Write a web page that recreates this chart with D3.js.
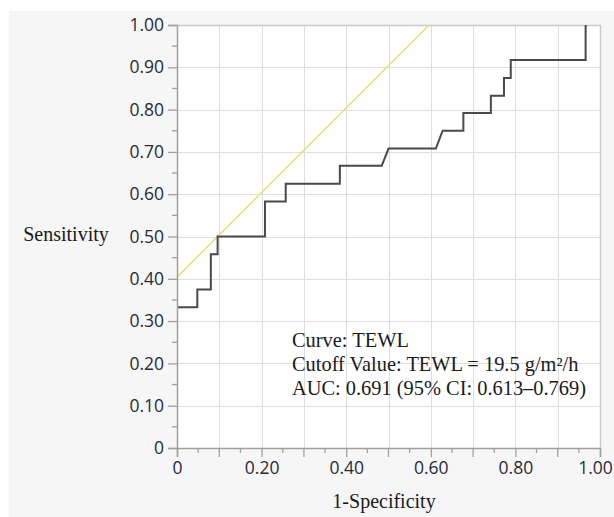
<!DOCTYPE html>
<html>
<head>
<meta charset="utf-8">
<script src="https://cdn.jsdelivr.net/npm/d3@7"></script>
<style>
  html, body { margin: 0; padding: 0; background: #ffffff; }
  svg { display: block; }
</style>
</head>
<body>
<svg id="chart" width="614" height="517"></svg>
<script>
// ROC curve points: 1-Specificity (fpr) and Sensitivity (tpr)
const fpr = [0, 0.048, 0.048, 0.080, 0.080, 0.096, 0.096, 0.208, 0.208, 0.257, 0.257, 0.385, 0.385, 0.484, 0.500, 0.612, 0.628, 0.677, 0.677, 0.742, 0.742, 0.773, 0.773, 0.789, 0.789, 0.966, 0.966];
const tpr = [0.333, 0.333, 0.375, 0.375, 0.458, 0.458, 0.500, 0.500, 0.583, 0.583, 0.625, 0.625, 0.667, 0.667, 0.708, 0.708, 0.750, 0.750, 0.792, 0.792, 0.833, 0.833, 0.875, 0.875, 0.917, 0.917, 1.000];
// Tangent line at cutoff point (slope 1)
const tangentX = [0, 0.596];
const tangentY = [0.404, 1.0];
const yTickValues = [0, 0.1, 0.2, 0.3, 0.4, 0.5, 0.6, 0.7, 0.8, 0.9, 1.0];
const yTickLabels = ["0", "0.10", "0.20", "0.30", "0.40", "0.50", "0.60", "0.70", "0.80", "0.90", "1.00"];
const xTickValues = [0, 0.2, 0.4, 0.6, 0.8, 1.0];
const xTickLabels = ["0", "0.20", "0.40", "0.60", "0.80", "1.00"];
const gridValues = [0.1, 0.2, 0.3, 0.4, 0.5, 0.6, 0.7, 0.8, 0.9];
const minorValues = [0.05, 0.15, 0.25, 0.35, 0.45, 0.55, 0.65, 0.75, 0.85, 0.95];
const majorValues = [0, 0.1, 0.2, 0.3, 0.4, 0.5, 0.6, 0.7, 0.8, 0.9, 1.0];
const annotation = ["Curve: TEWL", "Cutoff Value: TEWL = 19.5 g/m\u00B2/h", "AUC: 0.691 (95% CI: 0.613\u20130.769)"];
const xTitle = "1-Specificity";
const yTitle = "Sensitivity";

const svg = d3.select("#chart");
const L = 177, R = 600, T = 25, B = 448;
const x = d3.scaleLinear().domain([0, 1]).range([L, R]);
const y = d3.scaleLinear().domain([0, 1]).range([B, T]);

// panel background
svg.append("rect").attr("x", 9).attr("y", 11).attr("width", 605).attr("height", 506).attr("fill", "#f6f6f6");
// plot background
svg.append("rect").attr("x", L).attr("y", T).attr("width", R - L).attr("height", B - T).attr("fill", "#ffffff");

// grid
const grid = svg.append("g").attr("stroke", "#dedede").attr("stroke-width", 1.3).attr("shape-rendering", "crispEdges");
grid.selectAll("line.v").data(gridValues).join("line")
  .attr("x1", d => Math.round(x(d)) + 0.5).attr("x2", d => Math.round(x(d)) + 0.5)
  .attr("y1", T).attr("y2", B);
grid.selectAll("line.h").data(gridValues).join("line")
  .attr("y1", d => Math.round(y(d)) + 0.5).attr("y2", d => Math.round(y(d)) + 0.5)
  .attr("x1", L).attr("x2", R);

// border top/right
svg.append("path").attr("d", `M${L},${T + 0.5}H${R + 0.5}V${B}`).attr("fill", "none").attr("stroke", "#c9c9c9").attr("stroke-width", 1.5);

// tangent line
svg.append("line")
  .attr("x1", x(tangentX[0])).attr("y1", y(tangentY[0]))
  .attr("x2", x(tangentX[1])).attr("y2", y(tangentY[1]))
  .attr("stroke", "#e9e07c").attr("stroke-width", 1.6);

// ROC curve
const pts = fpr.map((f, i) => [f, tpr[i]]);
svg.append("path").datum(pts)
  .attr("d", d3.line().x(d => x(d[0])).y(d => y(d[1])))
  .attr("fill", "none").attr("stroke", "#4a4a4a").attr("stroke-width", 2).attr("stroke-linejoin", "miter");

// axes
const axisColor = "#a0a0a0";
const yAxis = d3.axisLeft(y).tickValues(yTickValues).tickSize(9).tickPadding(4)
  .tickFormat((d, i) => yTickLabels[i]);
const gy = svg.append("g").attr("transform", `translate(${L},0)`).call(yAxis);
gy.select(".domain").attr("stroke", axisColor).attr("stroke-width", 1.5);
gy.selectAll(".tick line").attr("stroke", axisColor).attr("stroke-width", 1.3);
gy.selectAll(".tick text").attr("font-family", "'Open Sans', sans-serif").attr("font-size", "17.5px").attr("fill", "#2a2a35");
gy.selectAll("line.minor").data(minorValues).join("line").attr("class", "minor")
  .attr("x1", -5).attr("x2", 0).attr("y1", d => y(d)).attr("y2", d => y(d))
  .attr("stroke", axisColor).attr("stroke-width", 1.3);

const xAxis = d3.axisBottom(x).tickValues(xTickValues).tickSize(9).tickPadding(5)
  .tickFormat((d, i) => xTickLabels[i]);
const gx = svg.append("g").attr("transform", `translate(0,${B})`).call(xAxis);
gx.select(".domain").attr("stroke", axisColor).attr("stroke-width", 1.5);
gx.selectAll(".tick line").attr("stroke", axisColor).attr("stroke-width", 1.3);
gx.selectAll(".tick text").attr("font-family", "'Open Sans', sans-serif").attr("font-size", "17.5px").attr("fill", "#2a2a35")
  .attr("dx", (d, i) => i === xTickValues.length - 1 ? -5 : 0);
gx.selectAll("line.mid").data(majorValues.filter((d, i) => i % 2 === 1)).join("line").attr("class", "mid")
  .attr("x1", d => x(d)).attr("x2", d => x(d)).attr("y1", 0).attr("y2", 9)
  .attr("stroke", axisColor).attr("stroke-width", 1.3);
gx.selectAll("line.minor").data(minorValues).join("line").attr("class", "minor")
  .attr("x1", d => x(d)).attr("x2", d => x(d)).attr("y1", 0).attr("y2", 5)
  .attr("stroke", axisColor).attr("stroke-width", 1.3);

// titles
svg.append("text").attr("x", 66).attr("y", 241).attr("text-anchor", "middle")
  .attr("font-family", "'Liberation Serif', 'Times New Roman', serif").attr("font-size", "20px").attr("fill", "#1a1a1a").text(yTitle);
svg.append("text").attr("x", 384).attr("y", 508).attr("text-anchor", "middle")
  .attr("font-family", "'Liberation Serif', 'Times New Roman', serif").attr("font-size", "20px").attr("fill", "#1a1a1a").text(xTitle);

// annotation
svg.append("g").selectAll("text").data(annotation).join("text")
  .attr("x", 292).attr("y", (d, i) => 347 + i * 24)
  .attr("font-family", "'Liberation Serif', 'Times New Roman', serif").attr("font-size", "20.4px").attr("fill", "#1a1a1a")
  .text(d => d);
</script>
</body>
</html>
